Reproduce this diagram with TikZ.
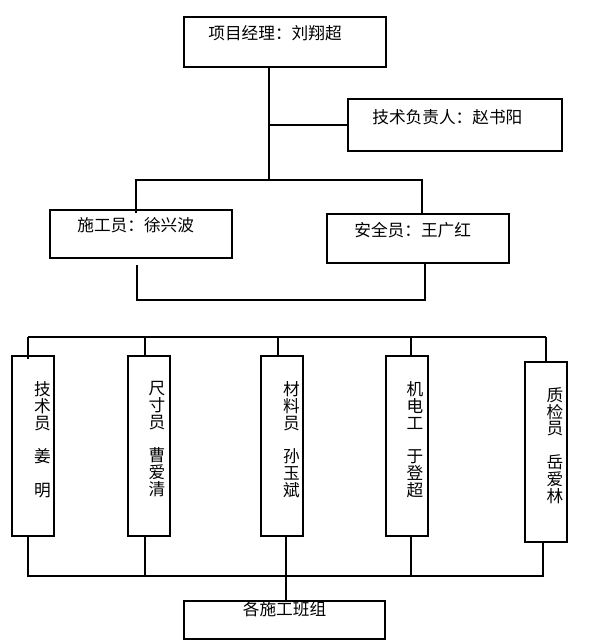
\documentclass[tikz,border=0pt]{standalone}
\usepackage{fontspec}
\newfontfamily\cjk{Noto Sans CJK SC}
\usetikzlibrary{positioning}

\tikzset{
  box/.style={draw, line width=1.3pt, inner sep=0pt},
  vbox/.style={box, minimum width=31.5pt, minimum height=135pt},
  lbl/.style={inner sep=0pt, font=\cjk\fontsize{12.5}{12.6}\selectfont},
  vlbl/.style={lbl, align=center},
  link/.style={line width=1.3pt}
}

\begin{document}
\begin{tikzpicture}[x=0.75pt, y=-0.75pt]
          \useasboundingbox (0,0) rectangle (593,644);

          \node [box, minimum width=151.5pt, minimum height=37.5pt] (pm) at (285,42) {}; % manager
          \node [box, minimum width=160.5pt, minimum height=39pt] (tech) at (455,125) {}; % chief engineer
          \node [box, minimum width=136.5pt, minimum height=36pt] (shigong) at (141,234) {};
          \node [box, minimum width=136.5pt, minimum height=36.75pt] (anquan) at (418,238.5) {};

          \node [lbl, below right=7pt and 18.75pt of pm.north west] (pmtext) {项目经理：刘翔超};
          \node [lbl, below right=8pt and 18.75pt of tech.north west] (techtext) {技术负责人：赵书阳};
          \node [lbl, below right=6pt and 21pt of shigong.north west] (shigongtext) {施工员：徐兴波};
          \node [lbl, below right=6.5pt and 21pt of anquan.north west] (anquantext) {安全员：王广红};

          \node [vbox] (jishu) at (33,446) {};
          \node [vbox] (chicun) at (149,446) {};
          \node [vbox] (cailiao) at (282,446) {};
          \node [vbox] (jidian) at (407,446) {};
          \node [vbox] (zhijian) at (546,452) {};
          \node [box, minimum width=150.75pt, minimum height=28.5pt] (banzu) at (284.5,620) {}; % work teams

          \node [vlbl, below=19.5pt of jishu.north, xshift=7pt] (jishutext) {技\\术\\员\\ \\姜\\ \\明};
          \node [vlbl, below=19.5pt of chicun.north, xshift=6pt] (chicuntext) {尺\\寸\\员\\ \\曹\\爱\\清};
          \node [vlbl, below=19.5pt of cailiao.north, xshift=7pt] (cailiaotext) {材\\料\\员\\ \\孙\\玉\\斌};
          \node [vlbl, below=19.5pt of jidian.north, xshift=6pt] (jidiantext) {机\\电\\工\\ \\于\\登\\超};
          \node [vlbl, below=19.5pt of zhijian.north, xshift=6.75pt] (zhijiantext) {质\\检\\员\\ \\岳\\爱\\林};
          \node [lbl, below=0.75pt of banzu.north] (banzutext) {各施工班组};

          \coordinate (trunk) at (269,180);
          \coordinate (busL) at (136,180);
          \coordinate (busR) at (422,180);
          \coordinate (lowL) at (137,300);
          \coordinate (lowR) at (425,300);

          \draw [link] (trunk |- pm.south) -- (trunk);
          \draw [link] (trunk |- tech.west) -- (tech.west);
          \draw [link, shorten <=-3pt] (busL |- shigong.north) -- (busL) -- (busR) -- (busR |- anquan.north);
          \draw [link, shorten <=4.5pt] (lowL |- shigong.south) -- (lowL) -- (lowR) -- (lowR |- anquan.south);

          \coordinate (topL) at (28,337);
          \coordinate (top2) at (145,337);
          \coordinate (top3) at (278,337);
          \coordinate (top4) at (411,337);
          \coordinate (topR) at (546,337);

          \draw [link] (topL) -- (topR);
          \draw [link, shorten >=-3pt] (topL) -- (topL |- jishu.north);
          \draw [link] (top2) -- (top2 |- chicun.north);
          \draw [link] (top3) -- (top3 |- cailiao.north);
          \draw [link] (top4) -- (top4 |- jidian.north);
          \draw [link] (topR) -- (topR |- zhijian.north);

          \coordinate (botL) at (28,576);
          \coordinate (bot2) at (145,576);
          \coordinate (bot3) at (286,576);
          \coordinate (bot4) at (411,576);
          \coordinate (botR) at (543,576);

          \draw [link] (botL |- jishu.south) -- (botL) -- (botR) -- (botR |- zhijian.south);
          \draw [link] (bot2 |- chicun.south) -- (bot2);
          \draw [link] (bot3 |- cailiao.south) -- (bot3) -- (bot3 |- banzu.north);
          \draw [link] (bot4 |- jidian.south) -- (bot4);
        \end{tikzpicture}
\end{document}
